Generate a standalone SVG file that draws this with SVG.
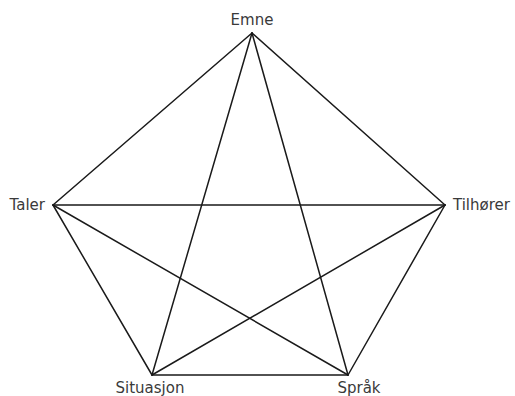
<svg xmlns="http://www.w3.org/2000/svg" width="515" height="396" viewBox="0 0 515 396">
<style>
.c line{stroke:#1a1a1a;stroke-width:1.5;stroke-linecap:round}
text{font-family:"DejaVu Sans","Liberation Sans",sans-serif;font-size:15px;fill:#3a3a3a}
</style>
<rect width="515" height="396" fill="#fff"/>
<g class="c" id="connectors">
<line x1="252" y1="33" x2="53" y2="205"/>
<line x1="252" y1="33" x2="445" y2="205"/>
<line x1="252" y1="33" x2="152" y2="375"/>
<line x1="252" y1="33" x2="348" y2="375"/>
<line x1="53" y1="205" x2="445" y2="205"/>
<line x1="53" y1="205" x2="152" y2="375"/>
<line x1="53" y1="205" x2="348" y2="375"/>
<line x1="445" y1="205" x2="152" y2="375"/>
<line x1="445" y1="205" x2="348" y2="375"/>
<line x1="152" y1="375" x2="348" y2="375"/>
</g>
<g id="emne"><text x="252" y="25" text-anchor="middle">Emne</text></g>
<g id="taler"><text x="45" y="210" text-anchor="end">Taler</text></g>
<g id="tilhorer"><text x="453" y="210">Tilhører</text></g>
<g id="situasjon"><text x="150" y="393" text-anchor="middle">Situasjon</text></g>
<g id="sprak"><text x="359" y="393" text-anchor="middle">Språk</text></g>
</svg>
